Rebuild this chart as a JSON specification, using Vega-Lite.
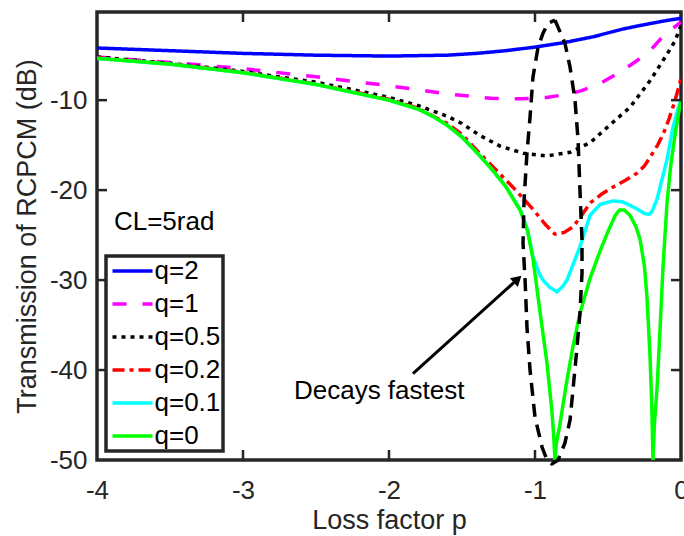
{
  "$schema": "https://vega.github.io/schema/vega-lite/v6.json",
  "width": 584,
  "height": 448,
  "autosize": "none",
  "padding": {"left": 97, "top": 12, "right": 3, "bottom": 76},
  "background": "white",
  "config": {
    "font": "Liberation Sans",
    "view": {"stroke": "#262626", "strokeWidth": 3.5},
    "axis": {
      "grid": false, "domain": false,
      "labelColor": "#262626", "labelFont": "Liberation Sans", "labelFontSize": 26,
      "titleColor": "#262626", "titleFont": "Liberation Sans", "titleFontSize": 27, "titleFontWeight": "normal"
    }
  },
  "layer": [
    {
      "data": {"values": [
        {"q": "q=2", "p": -4, "T": -4.2}, {"q": "q=2", "p": -3.5, "T": -4.5}, {"q": "q=2", "p": -3, "T": -4.8}, {"q": "q=2", "p": -2.5, "T": -5.0}, {"q": "q=2", "p": -2, "T": -5.1}, {"q": "q=2", "p": -1.6, "T": -5.0}, {"q": "q=2", "p": -1.4, "T": -4.8}, {"q": "q=2", "p": -1.2, "T": -4.5}, {"q": "q=2", "p": -1, "T": -4.1}, {"q": "q=2", "p": -0.8, "T": -3.6}, {"q": "q=2", "p": -0.6, "T": -2.95}, {"q": "q=2", "p": -0.4, "T": -2.1}, {"q": "q=2", "p": -0.28, "T": -1.7}, {"q": "q=2", "p": -0.2, "T": -1.45}, {"q": "q=2", "p": -0.1, "T": -1.15}, {"q": "q=2", "p": 0, "T": -0.9},

        {"q": "q=1", "p": -4, "T": -5.2}, {"q": "q=1", "p": -3.5, "T": -5.8}, {"q": "q=1", "p": -3, "T": -6.5}, {"q": "q=1", "p": -2.5, "T": -7.4}, {"q": "q=1", "p": -2, "T": -8.4}, {"q": "q=1", "p": -1.6, "T": -9.3}, {"q": "q=1", "p": -1.3, "T": -9.8}, {"q": "q=1", "p": -1.1, "T": -9.85}, {"q": "q=1", "p": -0.92, "T": -9.7}, {"q": "q=1", "p": -0.8, "T": -9.4}, {"q": "q=1", "p": -0.69, "T": -9.0}, {"q": "q=1", "p": -0.55, "T": -8.1}, {"q": "q=1", "p": -0.42, "T": -6.9}, {"q": "q=1", "p": -0.3, "T": -5.6}, {"q": "q=1", "p": -0.2, "T": -4.3}, {"q": "q=1", "p": -0.14, "T": -3.2}, {"q": "q=1", "p": -0.07, "T": -2.2}, {"q": "q=1", "p": 0, "T": -1.3},

        {"q": "q=0.5", "p": -4, "T": -5.2}, {"q": "q=0.5", "p": -3.5, "T": -5.9}, {"q": "q=0.5", "p": -3, "T": -6.8}, {"q": "q=0.5", "p": -2.8, "T": -7.3}, {"q": "q=0.5", "p": -2.5, "T": -8.0}, {"q": "q=0.5", "p": -2.2, "T": -9.0}, {"q": "q=0.5", "p": -2, "T": -9.7}, {"q": "q=0.5", "p": -1.8, "T": -10.6}, {"q": "q=0.5", "p": -1.6, "T": -11.8}, {"q": "q=0.5", "p": -1.5, "T": -12.6}, {"q": "q=0.5", "p": -1.38, "T": -13.9}, {"q": "q=0.5", "p": -1.24, "T": -15.1}, {"q": "q=0.5", "p": -1.08, "T": -15.9}, {"q": "q=0.5", "p": -0.92, "T": -16.2}, {"q": "q=0.5", "p": -0.76, "T": -15.8}, {"q": "q=0.5", "p": -0.62, "T": -14.7}, {"q": "q=0.5", "p": -0.49, "T": -12.8}, {"q": "q=0.5", "p": -0.35, "T": -10.8}, {"q": "q=0.5", "p": -0.21, "T": -7.8}, {"q": "q=0.5", "p": -0.1, "T": -5.0}, {"q": "q=0.5", "p": -0.04, "T": -3.4}, {"q": "q=0.5", "p": 0, "T": -1.7},

        {"q": "q=0.2", "p": -4, "T": -5.3}, {"q": "q=0.2", "p": -3.5, "T": -5.95}, {"q": "q=0.2", "p": -3, "T": -6.9}, {"q": "q=0.2", "p": -2.5, "T": -8.2}, {"q": "q=0.2", "p": -2, "T": -9.9}, {"q": "q=0.2", "p": -1.8, "T": -10.9}, {"q": "q=0.2", "p": -1.6, "T": -12.6}, {"q": "q=0.2", "p": -1.5, "T": -13.8}, {"q": "q=0.2", "p": -1.38, "T": -15.9}, {"q": "q=0.2", "p": -1.3, "T": -17.2}, {"q": "q=0.2", "p": -1.15, "T": -19.7}, {"q": "q=0.2", "p": -1.01, "T": -22.2}, {"q": "q=0.2", "p": -0.93, "T": -23.8}, {"q": "q=0.2", "p": -0.863, "T": -24.9}, {"q": "q=0.2", "p": -0.8, "T": -24.7}, {"q": "q=0.2", "p": -0.74, "T": -24.1}, {"q": "q=0.2", "p": -0.68, "T": -22.8}, {"q": "q=0.2", "p": -0.62, "T": -21.4}, {"q": "q=0.2", "p": -0.54, "T": -20.4}, {"q": "q=0.2", "p": -0.47, "T": -19.7}, {"q": "q=0.2", "p": -0.38, "T": -18.9}, {"q": "q=0.2", "p": -0.3, "T": -18.1}, {"q": "q=0.2", "p": -0.25, "T": -17.3}, {"q": "q=0.2", "p": -0.21, "T": -16.3}, {"q": "q=0.2", "p": -0.16, "T": -15.0}, {"q": "q=0.2", "p": -0.12, "T": -13.7}, {"q": "q=0.2", "p": -0.08, "T": -12.0}, {"q": "q=0.2", "p": -0.04, "T": -10.0}, {"q": "q=0.2", "p": 0, "T": -7.6},

        {"q": "q=0.1", "p": -4, "T": -5.35}, {"q": "q=0.1", "p": -3.5, "T": -6.0}, {"q": "q=0.1", "p": -3, "T": -6.95}, {"q": "q=0.1", "p": -2.5, "T": -8.25}, {"q": "q=0.1", "p": -2, "T": -10.0}, {"q": "q=0.1", "p": -1.8, "T": -11.0}, {"q": "q=0.1", "p": -1.7, "T": -11.8}, {"q": "q=0.1", "p": -1.6, "T": -12.8}, {"q": "q=0.1", "p": -1.5, "T": -14.1}, {"q": "q=0.1", "p": -1.4, "T": -15.8}, {"q": "q=0.1", "p": -1.3, "T": -17.6}, {"q": "q=0.1", "p": -1.2, "T": -19.6}, {"q": "q=0.1", "p": -1.1, "T": -22.2}, {"q": "q=0.1", "p": -1.05, "T": -24.5}, {"q": "q=0.1", "p": -1.014, "T": -27.4}, {"q": "q=0.1", "p": -0.97, "T": -29.3}, {"q": "q=0.1", "p": -0.945, "T": -30.0}, {"q": "q=0.1", "p": -0.9, "T": -30.8}, {"q": "q=0.1", "p": -0.849, "T": -31.3}, {"q": "q=0.1", "p": -0.81, "T": -30.7}, {"q": "q=0.1", "p": -0.781, "T": -30.0}, {"q": "q=0.1", "p": -0.74, "T": -28.3}, {"q": "q=0.1", "p": -0.692, "T": -26.3}, {"q": "q=0.1", "p": -0.623, "T": -22.8}, {"q": "q=0.1", "p": -0.555, "T": -21.6}, {"q": "q=0.1", "p": -0.466, "T": -21.2}, {"q": "q=0.1", "p": -0.4, "T": -21.3}, {"q": "q=0.1", "p": -0.349, "T": -21.7}, {"q": "q=0.1", "p": -0.3, "T": -22.1}, {"q": "q=0.1", "p": -0.25, "T": -22.6}, {"q": "q=0.1", "p": -0.22, "T": -22.7}, {"q": "q=0.1", "p": -0.199, "T": -22.4}, {"q": "q=0.1", "p": -0.164, "T": -21.0}, {"q": "q=0.1", "p": -0.13, "T": -18.8}, {"q": "q=0.1", "p": -0.096, "T": -16.6}, {"q": "q=0.1", "p": -0.055, "T": -13.0}, {"q": "q=0.1", "p": -0.02, "T": -10.9}, {"q": "q=0.1", "p": 0, "T": -10.0},

        {"q": "q=0", "p": -4, "T": -5.35}, {"q": "q=0", "p": -3.5, "T": -6.0}, {"q": "q=0", "p": -3, "T": -6.95}, {"q": "q=0", "p": -2.5, "T": -8.25}, {"q": "q=0", "p": -2, "T": -10.0}, {"q": "q=0", "p": -1.8, "T": -11.0}, {"q": "q=0", "p": -1.7, "T": -11.8}, {"q": "q=0", "p": -1.6, "T": -12.8}, {"q": "q=0", "p": -1.5, "T": -14.1}, {"q": "q=0", "p": -1.4, "T": -15.8}, {"q": "q=0", "p": -1.3, "T": -17.6}, {"q": "q=0", "p": -1.2, "T": -19.6}, {"q": "q=0", "p": -1.1, "T": -22.3}, {"q": "q=0", "p": -1.05, "T": -24.6}, {"q": "q=0", "p": -1.014, "T": -27.6}, {"q": "q=0", "p": -0.966, "T": -33.5}, {"q": "q=0", "p": -0.918, "T": -39.2}, {"q": "q=0", "p": -0.884, "T": -44.6}, {"q": "q=0", "p": -0.872, "T": -47.3}, {"q": "q=0", "p": -0.863, "T": -50}, {"q": "q=0", "p": -0.855, "T": -48.3}, {"q": "q=0", "p": -0.829, "T": -46.0}, {"q": "q=0", "p": -0.781, "T": -41.1}, {"q": "q=0", "p": -0.74, "T": -37.4}, {"q": "q=0", "p": -0.692, "T": -33.7}, {"q": "q=0", "p": -0.623, "T": -29.8}, {"q": "q=0", "p": -0.555, "T": -26.8}, {"q": "q=0", "p": -0.5, "T": -24.6}, {"q": "q=0", "p": -0.45, "T": -22.8}, {"q": "q=0", "p": -0.42, "T": -22.2}, {"q": "q=0", "p": -0.39, "T": -22.2}, {"q": "q=0", "p": -0.35, "T": -22.8}, {"q": "q=0", "p": -0.31, "T": -24.0}, {"q": "q=0", "p": -0.28, "T": -25.5}, {"q": "q=0", "p": -0.25, "T": -28.5}, {"q": "q=0", "p": -0.233, "T": -31.9}, {"q": "q=0", "p": -0.212, "T": -38.5}, {"q": "q=0", "p": -0.2, "T": -44.0}, {"q": "q=0", "p": -0.192, "T": -50}, {"q": "q=0", "p": -0.182, "T": -46.0}, {"q": "q=0", "p": -0.164, "T": -42.0}, {"q": "q=0", "p": -0.144, "T": -35.6}, {"q": "q=0", "p": -0.123, "T": -28.5}, {"q": "q=0", "p": -0.096, "T": -21.5}, {"q": "q=0", "p": -0.07, "T": -17.2}, {"q": "q=0", "p": -0.04, "T": -13.8}, {"q": "q=0", "p": -0.015, "T": -11.3}, {"q": "q=0", "p": 0, "T": -10.1}
      ]},
      "mark": {"type": "line", "strokeWidth": 3.5, "clip": true},
      "encoding": {
        "x": {"field": "p", "type": "quantitative",
          "scale": {"domain": [-4, 0], "nice": false, "zero": false},
          "axis": {"orient": "bottom", "values": [-4, -3, -2, -1, 0], "title": "Loss factor p", "ticks": false, "tickSize": 0, "labelPadding": 17, "titlePadding": 4, "labelFlush": false, "labelOverlap": false,
            "labelExpr": "datum.value == 0 ? '0' : '-' + abs(datum.value)"}},
        "y": {"field": "T", "type": "quantitative",
          "scale": {"domain": [-50, -0.2], "nice": false, "zero": false},
          "axis": {"orient": "left", "values": [-50, -40, -30, -20, -10], "title": "Transmission of RCPCM (dB)", "ticks": false, "tickSize": 0, "labelPadding": 10, "titlePadding": 8,
            "labelExpr": "'-' + abs(datum.value)"}},
        "color": {"field": "q", "type": "nominal",
          "scale": {"domain": ["q=2", "q=1", "q=0.5", "q=0.2", "q=0.1", "q=0"], "range": ["#0000FF", "#FF00FF", "#000000", "#FF0000", "#00FFFF", "#00FF00"]},
          "legend": {"orient": "none", "legendX": 9, "legendY": 244, "title": null, "titlePadding": 0,
            "labelFontSize": 26, "labelColor": "#000000", "labelFont": "Liberation Sans",
            "symbolType": "M-1.7,0H6.3", "symbolSize": 100, "symbolStrokeWidth": 3.5,
            "strokeColor": "#262626", "fillColor": "white",
            "padding": 2, "rowPadding": 7, "labelOffset": 20.5,
            "encode": {"legend": {"update": {"strokeWidth": {"value": 3.5}}}}}},
        "strokeDash": {"field": "q", "type": "nominal",
          "scale": {"domain": ["q=2", "q=1", "q=0.5", "q=0.2", "q=0.1", "q=0"], "range": [[1, 0], [14, 16], [4, 5], [12, 5, 4, 5], [1, 0], [1, 0]]}}
      }
    },
    {
      "data": {"values": [{"p": -3, "T": -50}, {"p": -2, "T": -50}, {"p": -1, "T": -50}]},
      "mark": {"type": "tick", "orient": "vertical", "size": 10, "thickness": 2.5, "yOffset": -5, "color": "#262626", "opacity": 1},
      "encoding": {
        "x": {"field": "p", "type": "quantitative", "scale": {"domain": [-4, 0], "nice": false, "zero": false}, "axis": null},
        "y": {"field": "T", "type": "quantitative", "scale": {"domain": [-50, -0.2], "nice": false, "zero": false}, "axis": null}
      }
    },
    {
      "data": {"values": [{"p": -3, "T": -0.2}, {"p": -2, "T": -0.2}, {"p": -1, "T": -0.2}]},
      "mark": {"type": "tick", "orient": "vertical", "size": 10, "thickness": 2.5, "yOffset": 5, "color": "#262626", "opacity": 1},
      "encoding": {
        "x": {"field": "p", "type": "quantitative", "scale": {"domain": [-4, 0], "nice": false, "zero": false}, "axis": null},
        "y": {"field": "T", "type": "quantitative", "scale": {"domain": [-50, -0.2], "nice": false, "zero": false}, "axis": null}
      }
    },
    {
      "data": {"values": [{"p": -4, "T": -40}, {"p": -4, "T": -30}, {"p": -4, "T": -20}, {"p": -4, "T": -10}]},
      "mark": {"type": "tick", "orient": "horizontal", "size": 10, "thickness": 2.5, "xOffset": 5, "color": "#262626", "opacity": 1},
      "encoding": {
        "x": {"field": "p", "type": "quantitative", "scale": {"domain": [-4, 0], "nice": false, "zero": false}, "axis": null},
        "y": {"field": "T", "type": "quantitative", "scale": {"domain": [-50, -0.2], "nice": false, "zero": false}, "axis": null}
      }
    },
    {
      "data": {"values": [{"p": 0, "T": -40}, {"p": 0, "T": -30}, {"p": 0, "T": -20}, {"p": 0, "T": -10}]},
      "mark": {"type": "tick", "orient": "horizontal", "size": 10, "thickness": 2.5, "xOffset": -5, "color": "#262626", "opacity": 1},
      "encoding": {
        "x": {"field": "p", "type": "quantitative", "scale": {"domain": [-4, 0], "nice": false, "zero": false}, "axis": null},
        "y": {"field": "T", "type": "quantitative", "scale": {"domain": [-50, -0.2], "nice": false, "zero": false}, "axis": null}
      }
    },
    {
      "data": {"values": [
        {"o": 1, "p": -0.863, "T": -1.11}, {"o": 2, "p": -0.795, "T": -3.67}, {"o": 3, "p": -0.76, "T": -6.33}, {"o": 4, "p": -0.726, "T": -10.0}, {"o": 5, "p": -0.705, "T": -14.44}, {"o": 6, "p": -0.692, "T": -20.0}, {"o": 7, "p": -0.678, "T": -25.56}, {"o": 8, "p": -0.678, "T": -29.22}, {"o": 9, "p": -0.692, "T": -33.67}, {"o": 10, "p": -0.712, "T": -37.44}, {"o": 11, "p": -0.74, "T": -42.22}, {"o": 12, "p": -0.76, "T": -45.56}, {"o": 13, "p": -0.795, "T": -48.11}, {"o": 14, "p": -0.842, "T": -50.0}, {"o": 15, "p": -0.884, "T": -50.44}, {"o": 16, "p": -0.918, "T": -50.0}, {"o": 17, "p": -0.952, "T": -48.56}, {"o": 18, "p": -1.0, "T": -45.22}, {"o": 19, "p": -1.034, "T": -40.0}, {"o": 20, "p": -1.055, "T": -35.22}, {"o": 21, "p": -1.068, "T": -30.0}, {"o": 22, "p": -1.082, "T": -25.89}, {"o": 23, "p": -1.075, "T": -21.11}, {"o": 24, "p": -1.055, "T": -15.89}, {"o": 25, "p": -1.034, "T": -11.89}, {"o": 26, "p": -1.014, "T": -7.44}, {"o": 27, "p": -0.979, "T": -4.11}, {"o": 28, "p": -0.945, "T": -2.56}, {"o": 29, "p": -0.911, "T": -1.44}, {"o": 30, "p": -0.863, "T": -1.11}
      ]},
      "mark": {"type": "line", "color": "#000000", "strokeWidth": 3.5, "strokeDash": [13, 8]},
      "encoding": {
        "x": {"field": "p", "type": "quantitative", "scale": {"domain": [-4, 0], "nice": false, "zero": false}, "axis": null},
        "y": {"field": "T", "type": "quantitative", "scale": {"domain": [-50, -0.2], "nice": false, "zero": false}, "axis": null},
        "order": {"field": "o", "type": "quantitative"}
      }
    },
    {
      "data": {"values": [{"p": -1.836, "T": -40.4}, {"p": -1.119, "T": -29.9}]},
      "mark": {"type": "line", "color": "#000000", "strokeWidth": 3},
      "encoding": {
        "x": {"field": "p", "type": "quantitative", "scale": {"domain": [-4, 0], "nice": false, "zero": false}, "axis": null},
        "y": {"field": "T", "type": "quantitative", "scale": {"domain": [-50, -0.2], "nice": false, "zero": false}, "axis": null}
      }
    },
    {
      "data": {"values": [{"p": -1.119, "T": -29.9}]},
      "mark": {"type": "point", "shape": "triangle-up", "angle": 48, "size": 140, "filled": true, "color": "#000000", "opacity": 1},
      "encoding": {
        "x": {"field": "p", "type": "quantitative", "scale": {"domain": [-4, 0], "nice": false, "zero": false}, "axis": null},
        "y": {"field": "T", "type": "quantitative", "scale": {"domain": [-50, -0.2], "nice": false, "zero": false}, "axis": null}
      }
    },
    {
      "data": {"values": [{"label": "Decays fastest", "p": -2.651, "T": -43.2}, {"label": "CL=5rad", "p": -3.884, "T": -24.4}]},
      "mark": {"type": "text", "align": "left", "baseline": "alphabetic", "fontSize": 26, "font": "Liberation Sans", "color": "#000000"},
      "encoding": {
        "x": {"field": "p", "type": "quantitative", "scale": {"domain": [-4, 0], "nice": false, "zero": false}, "axis": null},
        "y": {"field": "T", "type": "quantitative", "scale": {"domain": [-50, -0.2], "nice": false, "zero": false}, "axis": null},
        "text": {"field": "label"}
      }
    }
  ],
  "resolve": {"axis": {"x": "independent", "y": "independent"}}
}
